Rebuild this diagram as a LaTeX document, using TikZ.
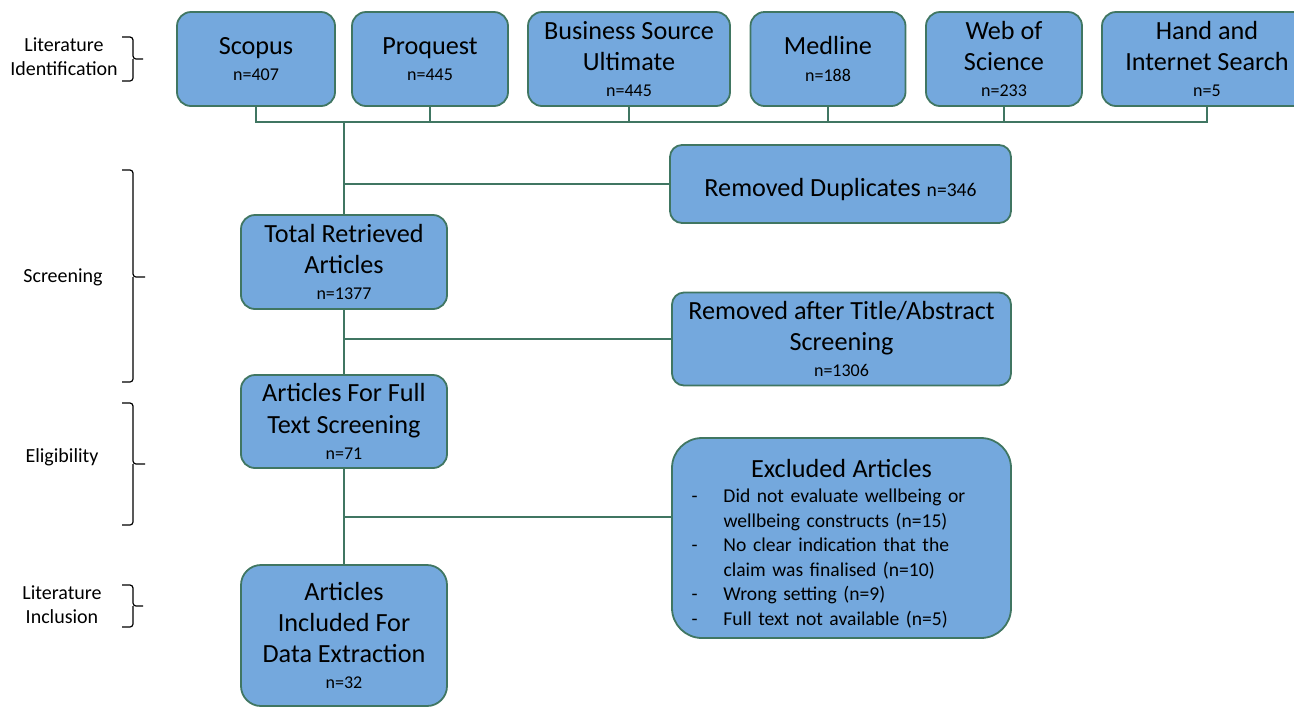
\documentclass[tikz,border=0pt]{standalone}
\usepackage{fontspec}
\setmainfont{Carlito}
\definecolor{boxfill}{RGB}{116,168,221}
\definecolor{boxline}{RGB}{64,118,98}
\newcommand{\mainsize}{\fontsize{13.1}{15.6}\selectfont}
\newcommand{\nsize}{\fontsize{9}{10.5}\selectfont}
\newcommand{\dupsize}{\fontsize{9.8}{12}\selectfont}
\newcommand{\listsize}{\fontsize{9.8}{12.3}\selectfont}
\newcommand{\stagesize}{\fontsize{10}{12}\selectfont}
\newcommand{\topgap}{\rule{0pt}{15pt}}
\newcommand{\smallgap}{\rule{0pt}{12.6pt}}
\tikzset{
	box/.style={draw=boxline, fill=boxfill, line width=0.9pt, rounded corners=7pt,
		align=center, inner sep=0pt, font=\mainsize, execute at begin node=\topgap},
	link/.style={draw=boxline, line width=0.9pt},
	stage/.style={align=center, font=\stagesize},
	bracket/.style={draw=black, line width=0.6pt, rounded corners=1.5pt}
}

\begin{document}
\begin{tikzpicture}[x=0.5pt, y=-0.5pt]
	\useasboundingbox (0,0) rectangle (1294,708);
	% databases
	\node[box, minimum width=79pt, minimum height=47pt] (scopus) at (256,59) {Scopus\\[-2.5pt]{\nsize n=407}};
	\node[box, minimum width=78pt, minimum height=47pt] (proquest) at (430,59) {Proquest\\[-2.5pt]{\nsize n=445}};
	\node[box, minimum width=101pt, minimum height=47pt] (bsu) at (629,59) {Business Source\\Ultimate\\[-2.5pt]{\nsize n=445}};
	\node[box, minimum width=77.5pt, minimum height=47pt] (medline) at (828,59) {Medline\\[-2.5pt]{\nsize n=188}};
	\node[box, minimum width=78pt, minimum height=47pt] (wos) at (1004,59) {Web of\\Science\\[-2.5pt]{\nsize n=233}};
	\node[box, minimum width=105pt, minimum height=47pt] (hand) at (1207,59) {Hand and\\Internet Search\\[-2.5pt]{\nsize n=5}};
	% flow
	\node[box, minimum width=170.5pt, minimum height=39pt, rounded corners=6pt,
		execute at begin node=\smallgap] (remdup) at (840.5,184) {Removed Duplicates {\dupsize n=346}};
	\node[box, minimum width=103pt, minimum height=47pt] (total) at (344,262) {Total Retrieved\\Articles\\[-2.5pt]{\nsize n=1377}};
	\node[box, minimum width=169.5pt, minimum height=46.5pt, rounded corners=6pt] (remtitle) at (841.5,339) {Removed after Title/Abstract\\Screening\\[-2.5pt]{\nsize n=1306}};
	\node[box, minimum width=103pt, minimum height=46.5pt] (full) at (344,421.5) {Articles For Full\\Text Screening\\[-2.5pt]{\nsize n=71}};
	\node[box, minimum width=169.5pt, minimum height=100pt, rounded corners=15pt,
		text width=150pt, align=left, font=\listsize, execute at begin node=\smallgap] (excl) at (841.5,538) {%
		\makebox[150pt][c]{\mainsize Excluded Articles}\\[0pt]
		\makebox[16pt][l]{-}Did not evaluate wellbeing or\\
		\hspace*{16pt}wellbeing constructs (n=15)\\
		\makebox[16pt][l]{-}No clear indication that the\\
		\hspace*{16pt}claim was finalised (n=10)\\
		\makebox[16pt][l]{-}Wrong setting (n=9)\\
		\makebox[16pt][l]{-}Full text not available (n=5)};
	\node[box, minimum width=103pt, minimum height=70.5pt, rounded corners=10pt] (incl) at (344,635.5) {Articles\\Included For\\Data Extraction\\[-2.5pt]{\nsize n=32}};
	% connectors
	\coordinate (bus) at (344,122);
	\coordinate (exclin) at (672,517);
	\draw[link] (scopus.south) -- (scopus.south |- bus) -- (hand.south |- bus) -- (hand.south);
	\foreach \src in {proquest,bsu,medline,wos}
		\draw[link] (\src.south) -- (\src.south |- bus);
	\draw[link] (bus) -- (total.north);
	\draw[link] (bus |- remdup.west) -- (remdup.west);
	\draw[link] (total.south) -- (full.north);
	\draw[link] (total.south |- remtitle.west) -- (remtitle.west);
	\draw[link] (full.south) -- (incl.north);
	\draw[link] (full.south |- exclin) -- (exclin);
	% stages
	\node[stage] (ident) at (64,57) {Literature\\Identification};
	\node[stage] (screen) at (63,277) {Screening};
	\node[stage] (elig) at (62,457) {Eligibility};
	\node[stage] (inclusion) at (62,605) {Literature\\Inclusion};
	\draw[bracket] (122,37) -- (133,37) -- (133,59) -- (143,59) (133,59) -- (133,81) -- (122,81);
	\draw[bracket] (122,170) -- (133,170) -- (133,277) -- (145,277) (133,277) -- (133,382) -- (122,382);
	\draw[bracket] (122,403) -- (133,403) -- (133,464) -- (145,464) (133,464) -- (133,525) -- (122,525);
	\draw[bracket] (122,585) -- (133,585) -- (133,606) -- (143,606) (133,606) -- (133,627) -- (122,627);
\end{tikzpicture}
\end{document}
